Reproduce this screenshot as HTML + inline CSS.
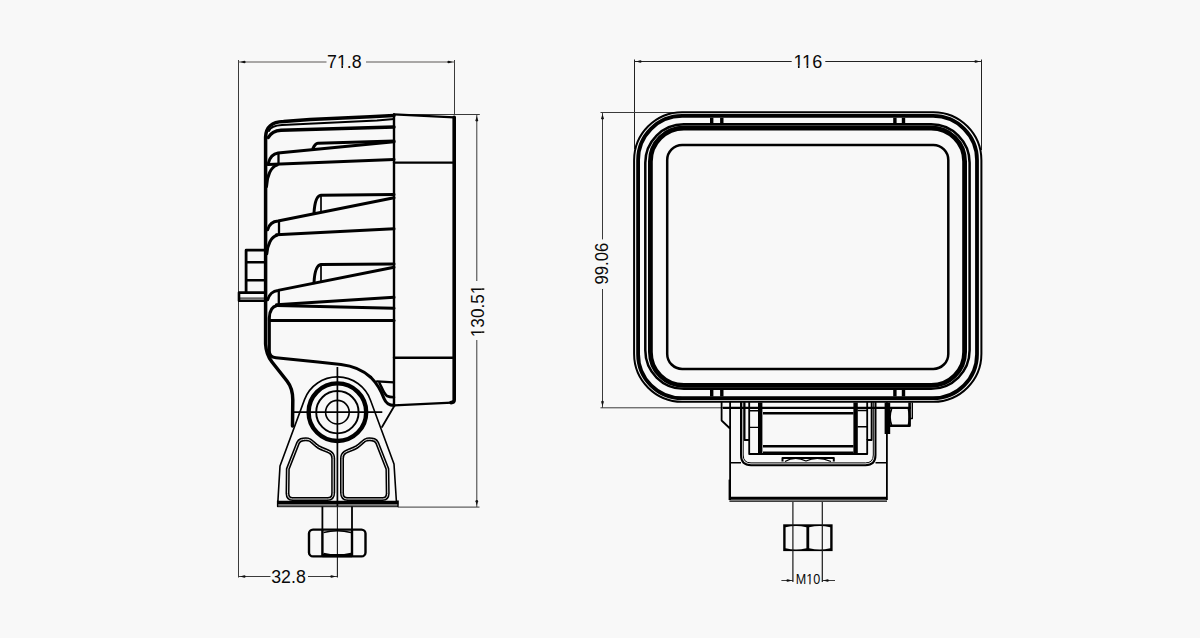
<!DOCTYPE html>
<html><head><meta charset="utf-8"><title>Drawing</title>
<style>
html,body{margin:0;padding:0;background:#f8f8f8;width:1200px;height:638px;overflow:hidden;}
svg{display:block;}
text{font-family:"Liberation Sans",sans-serif;fill:#0a0a0a;}
</style></head>
<body>
<svg width="1200" height="638" viewBox="0 0 1200 638">
<g>
<rect width="1200" height="638" fill="#f8f8f8"/>
<g stroke="#3a3a3a" stroke-width="1" fill="none">
  <path d="M238.5,60V577.5 M454.5,60V115"/>
  <path stroke="#5a5654" d="M238.5,62H326.5 M366,62H454.5"/>
  <path d="M394,114.5H479.8 M398,507.1H479.5 M476.8,114.5V281 M476.8,340V507"/>
  <path d="M238.5,576.5H270.5 M308,576.5H337.5"/>
  <path stroke="#222" d="M634.5,59.5V149 M981.5,59.5V150 M634.5,61.5H791.7 M825.3,61.5H981.5"/>
  <path d="M600.5,112.5H680 M600.5,407.8H723 M602.5,112.5V239.4 M602.5,289V407.8"/>
  <path d="M781.4,580.5H793.1 M822.3,580.5H835"/>
</g>
<g fill="#111" stroke="none">
<path d="M240.10,62.00 L244.30,63.30 A1.3,1.3 0 0 0 244.30,60.70 Z"/>
<path d="M452.90,62.00 L448.70,63.30 A1.3,1.3 0 0 1 448.70,60.70 Z"/>
<path d="M476.80,116.10 L478.10,120.30 A1.3,1.3 0 0 1 475.50,120.30 Z"/>
<path d="M476.80,505.50 L478.10,501.30 A1.3,1.3 0 0 0 475.50,501.30 Z"/>
<path d="M240.10,576.50 L244.30,577.80 A1.3,1.3 0 0 0 244.30,575.20 Z"/>
<path d="M335.80,576.50 L331.60,577.80 A1.3,1.3 0 0 1 331.60,575.20 Z"/>
<path d="M636.10,61.50 L640.30,62.80 A1.3,1.3 0 0 0 640.30,60.20 Z"/>
<path d="M979.90,61.50 L975.70,62.80 A1.3,1.3 0 0 1 975.70,60.20 Z"/>
<path d="M602.50,114.10 L603.80,118.30 A1.3,1.3 0 0 1 601.20,118.30 Z"/>
<path d="M602.50,406.20 L603.80,402.00 A1.3,1.3 0 0 0 601.20,402.00 Z"/>
<path d="M791.90,580.50 L787.70,581.80 A1.3,1.3 0 0 1 787.70,579.20 Z"/>
<path d="M823.30,580.50 L827.50,581.80 A1.3,1.3 0 0 0 827.50,579.20 Z"/>
</g>
<g font-size="18" text-anchor="middle">
  <text x="344.4" y="68" textLength="34.6" lengthAdjust="spacingAndGlyphs">71.8</text>
  <text x="288.5" y="583" textLength="34.6" lengthAdjust="spacingAndGlyphs">32.8</text>
  <text x="807.8" y="68" textLength="28.8" lengthAdjust="spacingAndGlyphs">116</text>
  <g transform="translate(484.3,310.9) rotate(-90)"><text x="0" y="0" textLength="52.6" lengthAdjust="spacingAndGlyphs">130.51</text></g>
  <g transform="translate(608.2,263.6) rotate(-90)"><text x="0" y="0" textLength="41.7" lengthAdjust="spacingAndGlyphs">99.06</text></g>
  <text x="808" y="584.3" font-size="14.6" textLength="24.4" lengthAdjust="spacingAndGlyphs">M10</text>
</g>
<g fill="#f8f8f8"><rect x="337.48" y="65.41" width="9.38" height="3.49"/></g><g fill="#0a0a0a"><rect x="341.450" y="65.41" width="1.574" height="2.59"/></g>
<g fill="#f8f8f8"><rect x="793.93" y="65.41" width="9.51" height="3.49"/><rect x="802.63" y="65.41" width="9.51" height="3.49"/></g><g fill="#0a0a0a"><rect x="797.951" y="65.41" width="1.599" height="2.59"/><rect x="806.652" y="65.41" width="1.599" height="2.59"/></g>
<g fill="#f8f8f8" transform="translate(484.3,310.9) rotate(-90)"><rect x="-25.84" y="-2.59" width="9.13" height="3.49"/><rect x="17.18" y="-2.59" width="9.13" height="3.49"/></g><g fill="#0a0a0a" transform="translate(484.3,310.9) rotate(-90)"><rect x="-21.967" y="-2.59" width="1.523" height="2.59"/><rect x="21.050" y="-2.59" width="1.523" height="2.59"/></g>
<g fill="#f8f8f8"><rect x="806.37" y="581.96" width="7.09" height="3.24"/></g><g fill="#0a0a0a"><rect x="809.405" y="581.96" width="1.110" height="2.34"/></g>

<g stroke="#000" fill="none" stroke-width="3" stroke-linejoin="round" stroke-linecap="round">
  <path stroke-width="3.5" d="M394,115.5 L370,116.7 L310,119.6 L283.5,121.5 C271,122 266,127 265.6,137 L265.6,344 C266,352 268,357 272,362 L287,381 C291,386 292.8,392 292.8,400 L292.5,426"/>
  <path stroke-width="2" d="M394,119 L377,120.5 L282,125 C274,125.5 270,127.5 269,131"/>
  <path stroke-width="3.4" d="M394,127 L281,130.2 C275,130.6 271,132.5 268.3,137.5"/>
  <g transform="translate(0,0.8)">
  <!-- fin 1 -->
  <path d="M268.5,162 C270,156 273,153 278,152.2 L394,141"/>
  <path stroke-width="2.3" d="M278.5,152.5V163.5"/>
  <path d="M268,163.8 L394,158.6"/>
  <path d="M266.5,186 C267,175 271,166 277,164.3"/>
  <path d="M313,147.6 C314.5,144 315.5,142.6 318,142.4 L394,140.2"/>
  <!-- fin 2 -->
  <path d="M267.6,229 C269,224 273,220.5 278,220.2 L394,197"/>
  <path stroke-width="2.3" d="M279,220.5V233"/>
  <path d="M276.4,234 L394,228"/>
  <path d="M266.8,253 C267.5,244 271,236 277,234.4"/>
  <path d="M314,212.6 C314.5,203 316,195 321,194.5 L394,193.6"/><path stroke-width="1.7" d="M321,195V210"/>
  <!-- fin 3 -->
  <path d="M267.6,299 C269,294 273,290 278,289.6 L394,266.4"/>
  <path stroke-width="2.3" d="M278.8,290V302.5"/>
  <path d="M276.4,304 L394,296.5"/>
  <path d="M314,282 C314.5,272 316,264.5 321,263.8 L394,263.2"/><path stroke-width="1.7" d="M321,264V280"/>
  </g>
  <!-- lower body -->
  <path d="M277,305.6 L394,308.2"/>
  <path d="M269.5,320.5 L394,320.5"/>
  <path stroke-width="3.1" d="M277,305.6 C272.5,306.5 269.5,311 269.3,318 L269.3,351 C269.3,355.5 271.5,357.5 276,357.8 L318,362 L341,364.5 C354,366 364,371 371,377.5 C377.5,384 381.5,392 384,398.5 C386,403.5 389,405.4 394,405.4"/>
  <!-- side clip -->
  <path stroke-width="2.8" d="M265,250.2 H246.1 V292.6"/>
  <path stroke-width="2.4" d="M246.5,262.2H265 M246.5,280.2H265"/>
  <path stroke-width="2.6" d="M265,292.6 H239 V300.7 H265"/>
  <path stroke-width="1" d="M239.5,298.1H265"/>
  <!-- bezel -->
  <path stroke-width="2.4" d="M394,114.4 V405.4"/>
  <path stroke-width="2.4" d="M394,114.4 L454,117.4"/>
  <path stroke-width="3.6" d="M454.2,117.2 V400 Q454.2,402.5 451,402.6"/>
  <path stroke-width="2.4" d="M394,405.4 L452,402.6"/>
  <path stroke-width="2.4" d="M394,162.6H453 M394,357.7H453"/>
  <!-- tab -->
  <path stroke-width="2.2" d="M377,381.3 L394,382.4"/>
  <path stroke-width="2.6" d="M379.5,383 C382,388 384,394 387,396 C389,397 391,397.2 394,397.2"/>
  <!-- mount bracket -->
  <path stroke-width="1.6" d="M277.8,503 L280,466 L304.5,399.6 A35.2,35.2 0 0 1 370.6,400.4 L394,464 L396.5,503"/>
  <path stroke-width="1.8" d="M394,406.5 L382,427"/>
  <circle cx="337.4" cy="412.2" r="11.8" stroke-width="1.6"/>
  <circle cx="337.4" cy="412.2" r="21.2" stroke-width="1.9"/>
  <circle cx="337.4" cy="412.2" r="28.8" stroke-width="4.4"/>
  <!-- base -->
  <path stroke-width="3.6" stroke-linecap="butt" d="M277.2,502.6 H398.4"/>
  <path stroke-width="1.3" stroke="#6a6a6a" stroke-linecap="butt" d="M277.8,505.4 H398"/>
  <path stroke-width="1" stroke-linecap="butt" d="M278,506.7 H398"/>
  <path stroke-width="1.4" d="M277.6,501 V506.5 M398,501 V506.5"/>
</g>
<g fill="none" stroke-linejoin="round">
  <g>
    <path stroke="#000" stroke-width="4" d="M301,440 C303,439.3 305.5,439.2 308,439.4 C311.5,440 313.5,443.8 318.5,447 C322.5,449.4 327,450.4 330.3,452.4 C332.7,454 333.2,456 333.2,458.5 L333.2,492.5 C333.2,496.8 331.8,498.9 327.5,499 L292.5,499 C289,499 287.6,497 287.5,493.5 L287.8,469 L297.9,443.2 C298.7,441.5 299.6,440.5 301,440 Z"/>
    <path stroke="#f8f8f8" stroke-width="0.9" d="M301,440 C303,439.3 305.5,439.2 308,439.4 C311.5,440 313.5,443.8 318.5,447 C322.5,449.4 327,450.4 330.3,452.4 C332.7,454 333.2,456 333.2,458.5 L333.2,492.5 C333.2,496.8 331.8,498.9 327.5,499 L292.5,499 C289,499 287.6,497 287.5,493.5 L287.8,469 L297.9,443.2 C298.7,441.5 299.6,440.5 301,440 Z"/>
  </g>
  <g transform="translate(675.2,0) scale(-1,1)">
    <path stroke="#000" stroke-width="4" d="M301,440 C303,439.3 305.5,439.2 308,439.4 C311.5,440 313.5,443.8 318.5,447 C322.5,449.4 327,450.4 330.3,452.4 C332.7,454 333.2,456 333.2,458.5 L333.2,492.5 C333.2,496.8 331.8,498.9 327.5,499 L292.5,499 C289,499 287.6,497 287.5,493.5 L287.8,469 L297.9,443.2 C298.7,441.5 299.6,440.5 301,440 Z"/>
    <path stroke="#f8f8f8" stroke-width="0.9" d="M301,440 C303,439.3 305.5,439.2 308,439.4 C311.5,440 313.5,443.8 318.5,447 C322.5,449.4 327,450.4 330.3,452.4 C332.7,454 333.2,456 333.2,458.5 L333.2,492.5 C333.2,496.8 331.8,498.9 327.5,499 L292.5,499 C289,499 287.6,497 287.5,493.5 L287.8,469 L297.9,443.2 C298.7,441.5 299.6,440.5 301,440 Z"/>
  </g>
</g>
<g stroke="#000" fill="none">
  <path stroke-width="1.7" d="M337.4,367 V506 M292,412.2 H382.3"/>
  <path stroke-width="1.1" stroke="#1a1a1a" d="M337.4,506 V577.5"/>
  <path stroke-width="1.8" d="M322.4,506.5 V529.6 M352,506.5 V529.6"/>
  <rect x="309" y="529.6" width="56.5" height="26.8" rx="4" stroke-width="2.4"/>
  <path stroke-width="2.4" d="M322.4,529.6 V556.4 M352,529.6 V556.4"/>
  <path stroke-width="3.2" d="M322.4,555.6 H352"/>
  <path stroke-width="1.4" d="M323.5,532.5 Q337.2,529 351,532.5 M323.5,553.5 Q337.2,557 351,553.5"/>
</g>
<g stroke="#000" fill="none"><rect x="634.1" y="112.2" width="347.3" height="289.6" rx="48" stroke-width="2.0" /><rect x="638.1" y="115.9" width="338.9" height="282.3" rx="44" stroke-width="3.8" /><rect x="645.3" y="124.3" width="324.3" height="264.5" rx="38.5" stroke-width="2.5" /><rect x="650.4" y="128.0" width="314.2" height="257.4" rx="33.5" stroke-width="4.8" /><rect x="667.2" y="144.9" width="281.1" height="224.0" rx="15" stroke-width="2.5" /><path stroke-width="3.4" d="M711.7,117.8V123 M721.8,117.8V123 M894.9,117.8V123 M903.5,117.8V123"/><path stroke-width="3.4" d="M711.7,390V396.5 M721.8,390V396.5 M894.9,390V396.5 M903.5,390V396.5"/></g><g stroke="#000" fill="none" stroke-width="1.8" stroke-linejoin="round">
  <path d="M721.6,402 V420.5 L730,428.5 M730.1,402 V500"/>
  <path stroke-width="2.4" d="M729.8,479.6 V500"/>
  <path stroke-width="3" d="M729.4,498.2 H887"/>
  <path stroke-width="1.2" d="M729.4,501.2 H887"/>
  <path stroke-width="2.2" d="M723,407.8 H911"/>
  <path stroke-width="1.4" d="M730,462.7 H741 M875.5,462.7 H887"/>
  <path stroke-width="2" d="M741,402 V455 Q741,465.2 751,465.2 H865.5 Q875.5,465.2 875.5,455 V402"/>
  <path stroke-width="1" d="M743.2,402 V455 Q743.2,462.9 751,462.9 H865.5 Q873.3,462.9 873.3,455 V402"/>
  <path d="M744.6,402 V440 H749.2 V454 H867.2 V440 H871.6 V402"/>
  <path d="M749.2,402 V440 M867.2,402 V440"/>
  <path stroke-width="4.4" d="M760.2,402.5 V454 M855.6,402.5 V454"/>
  <path stroke-width="2.4" d="M763,413.3H853.5 M763,446.2H853.5 M763,452.6H853.5"/>
  <path stroke-width="1.4" d="M749.2,410.7H759 M749.2,427.4H759 M857.5,410.5H867 M857.5,426.8H867"/>
  <path stroke-width="2" d="M782.5,461.5 V458 H833.8 V461.5"/>
  <path stroke-width="1.2" d="M785,461.5 Q795,455.5 806,461 Q817,455.5 831,461.5"/>
  <path stroke-width="1.8" d="M886.9,402 V500"/>
  <path stroke-width="5.6" d="M887.4,402.5 V434"/>
  <path stroke-width="2.6" d="M889,425.8 H909.6 V402.5"/>
  <path stroke-width="1.4" d="M912.3,402.5 V418.5 H910"/>
  <path stroke-width="1.8" d="M891.5,409 Q888.5,417 891.5,425 M908.5,409 Q910.5,417 908.5,425"/>
</g>
<g stroke="none">
  <rect x="783.2" y="524.3" width="49.4" height="26.8" fill="#000"/>
  <path fill="#f8f8f8" d="M785.6,527.2 Q796,524.8 806.4,527.2 L806.4,548.2 Q796,550.6 785.6,548.2 Z"/>
  <path fill="#f8f8f8" d="M809.2,527.2 Q819.7,524.8 830.2,527.2 L830.2,548.2 Q819.7,550.6 809.2,548.2 Z"/>
</g>
<g stroke="#000" fill="none">
  <path stroke-width="1.2" stroke="#1a1a1a" d="M792.9,502 V582 M822.3,502 V582"/>
</g>
</g>
</svg>
</body></html>
